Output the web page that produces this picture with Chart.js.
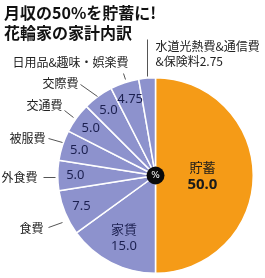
<!DOCTYPE html>
<html>
<head>
<meta charset="utf-8">
<script src="https://cdn.jsdelivr.net/npm/chart.js@4.4.1/dist/chart.umd.min.js"></script>
<style>
  html, body { margin: 0; padding: 0; background: #fff; }
  #wrap { width: 265px; height: 278px; position: relative; }
</style>
</head>
<body>
<div id="wrap"><canvas id="pie"></canvas></div>
<script>
const titleLines = ['月収の50%を貯蓄に!', '花輪家の家計内訳'];

const categories = ['貯蓄', '家賃', '食費', '外食費', '被服費', '交通費', '交際費', '日用品&趣味・娯楽費', '水道光熱費&通信費&保険料'];
const shares = [50, 15, 7.5, 5, 5, 5, 5, 4.75, 2.75];
const shareLabels = ['50.0', '15.0', '7.5', '5.0', '5.0', '5.0', '5.0', '4.75', '2.75'];

const ORANGE = '#f59b17';
const LAVENDER = '#8d92cd';
const NAVY = '#1c2050';
const INK = '#222';
const JP = '"Noto Sans CJK JP", "Noto Sans", sans-serif';

// label placement (offsets from pie centre, px)
const callouts = {
  2: { text: ['食費'], tx: -112, ty: 53, align: 'right', line: [-107, 52, -93, 47] },
  3: { text: ['外食費'], tx: -118, ty: 2, align: 'right', line: [-112, 2, -100, 2] },
  4: { text: ['被服費'], tx: -110, ty: -37, align: 'right', line: [-107, -37, -93, -33] },
  5: { text: ['交通費'], tx: -93, ty: -70, align: 'right', line: [-91, -65, -82, -58] },
  6: { text: ['交際費'], tx: -77, ty: -92, align: 'right', line: [-75, -91, -58, -79] },
  7: { text: ['日用品&趣味・娯楽費'], tx: -85, ty: -113, align: 'center', line: [-32, -102, -30, -96] },
  8: { text: ['水道光熱費&通信費', '&保険料' + shareLabels[8]], tx: 0, ty: -129, align: 'left', line: [-8, -136, -8, -99] }
};
const insideRadius = { 0: 0.48, 1: 0.71 };

const labelPlugin = {
  id: 'pieLabels',
  afterDraw(chart) {
    const ctx = chart.ctx;
    const arcs = chart.getDatasetMeta(0).data;
    const cx = arcs[0].x;
    const cy = arcs[0].y;
    ctx.save();

    // title
    ctx.fillStyle = '#111';
    ctx.font = `bold 16px ${JP}`;
    ctx.textAlign = 'left';
    ctx.textBaseline = 'middle';
    ctx.fillText(titleLines[0], 4, 13);
    ctx.fillText(titleLines[1], 4, 33);

    // inside values
    arcs.forEach((arc, i) => {
      if (i === 8) return;
      const mid = (arc.startAngle + arc.endAngle) / 2;
      const r = arc.outerRadius * (insideRadius[i] ?? 0.82);
      const x = cx + Math.cos(mid) * r;
      const y = cy + Math.sin(mid) * r;
      ctx.textAlign = 'center';
      ctx.fillStyle = NAVY;
      if (i === 0) {
        ctx.fillStyle = '#1a1a1a';
        ctx.font = `13px ${JP}`;
        ctx.fillText(categories[0], x, y - 8);
        ctx.font = 'bold 15px "Noto Sans", sans-serif';
        ctx.fillText(shareLabels[0], x, y + 9);
      } else if (i === 1) {
        ctx.font = `13px ${JP}`;
        ctx.fillText(categories[1], x, y - 8);
        ctx.font = '13px "Noto Sans", sans-serif';
        ctx.fillText(shareLabels[1], x, y + 9);
      } else {
        ctx.font = '13px "Noto Sans", sans-serif';
        ctx.fillText(shareLabels[i], x, y);
      }
    });

    // outside labels and leader lines
    ctx.strokeStyle = '#555';
    ctx.lineWidth = 1;
    ctx.fillStyle = INK;
    ctx.font = `12px ${JP}`;
    Object.values(callouts).forEach((c) => {
      ctx.beginPath();
      ctx.moveTo(cx + c.line[0], cy + c.line[1]);
      ctx.lineTo(cx + c.line[2], cy + c.line[3]);
      ctx.stroke();
      ctx.textAlign = c.align;
      c.text.forEach((t, k) => ctx.fillText(t, cx + c.tx, cy + c.ty + k * 15));
    });

    // centre badge
    ctx.beginPath();
    ctx.arc(cx, cy, 9, 0, Math.PI * 2);
    ctx.fillStyle = '#0a0a0a';
    ctx.fill();
    ctx.fillStyle = '#fff';
    ctx.font = '9px "DejaVu Sans", sans-serif';
    ctx.textAlign = 'center';
    ctx.fillText('%', cx, cy + 0.5);
    ctx.restore();
  }
};

new Chart(document.getElementById('pie'), {
  type: 'pie',
  data: {
    labels: categories,
    datasets: [{
      data: shares,
      backgroundColor: shares.map((_, i) => (i === 0 ? ORANGE : LAVENDER)),
      borderColor: '#fff',
      borderWidth: 1.5
    }]
  },
  options: {
    responsive: true,
    maintainAspectRatio: false,
    animation: false,
    layout: { padding: { left: 57, right: 11, top: 77, bottom: 4 } },
    plugins: {
      legend: { display: false },
      tooltip: { enabled: false }
    }
  },
  plugins: [labelPlugin]
});
</script>
</body>
</html>
